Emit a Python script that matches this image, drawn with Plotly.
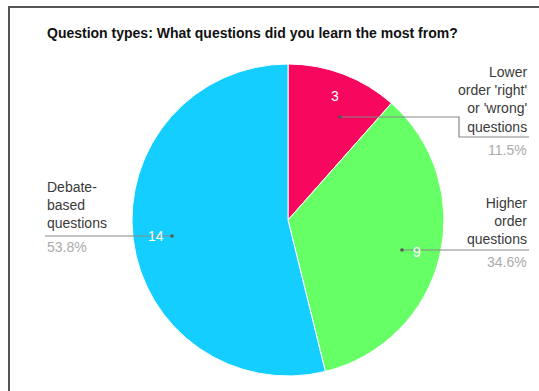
import math
import plotly.graph_objects as go

# ---- data ----
categories = ["Lower<br>order 'right'<br>or 'wrong'<br>questions",
              "Higher<br>order<br>questions",
              "Debate-<br>based<br>questions"]
values = [3, 9, 14]
colors = ["#F7075D", "#66FF66", "#14CEFF"]
title_text = "Question types: What questions did you learn the most from?"

W, H = 539, 391
# pie placement (pixels)
CX, CY, R = 288, 220, 156


def px(x, y):
    return x / W, 1 - y / H


fig = go.Figure()
fig.add_trace(go.Pie(
    labels=[c.replace("<br>", " ") for c in categories],
    values=values,
    sort=False,
    direction="clockwise",
    rotation=0,
    marker=dict(colors=colors, line=dict(color="white", width=1)),
    textinfo="none",
    hoverinfo="label+value+percent",
    showlegend=False,
    domain=dict(x=[(CX - R) / W, (CX + R) / W],
                y=[1 - (CY + R) / H, 1 - (CY - R) / H]),
))

annotations = []
shapes = []

total = sum(values)
cum = 0
mids = []
for v in values:
    mid = (cum + v / 2) / total * 2 * math.pi
    mids.append(mid)
    cum += v

# value labels inside slices (computed from data)
for v, mid in zip(values, mids):
    x = CX + 0.85 * R * math.sin(mid)
    y = CY - 0.85 * R * math.cos(mid)
    ax, ay = px(x, y)
    annotations.append(dict(x=ax, y=ay, xref="paper", yref="paper", text=str(v),
                            showarrow=False, font=dict(family="Liberation Sans", size=14, color="white"),
                            xanchor="center", yanchor="middle"))

# outside label layout (pixels): text x, anchor, block center y, pct y, leader path
label_layout = [
    dict(x=529, anchor="right", cy=100, py=150,
         path=[(340, 117), (459, 117), (459, 137), (529, 137)]),
    dict(x=529, anchor="right", cy=221, py=262,
         path=[(402, 250), (529, 250)]),
    dict(x=45, anchor="left", cy=205, py=247,
         path=[(172, 236), (45, 236)]),
]

for cat, v, lay in zip(categories, values, label_layout):
    ax, ay = px(lay["x"], lay["cy"])
    annotations.append(dict(x=ax, y=ay, xref="paper", yref="paper", text=cat,
                            showarrow=False, align=lay["anchor"],
                            font=dict(family="Liberation Sans", size=14, color="#3a3a3a"),
                            xanchor=lay["anchor"], yanchor="middle"))
    pct = f"{v / total * 100:.1f}%"
    bx, by = px(lay["x"], lay["py"])
    annotations.append(dict(x=bx, y=by, xref="paper", yref="paper", text=pct,
                            showarrow=False,
                            font=dict(family="Liberation Sans", size=14, color="#ababab"),
                            xanchor=lay["anchor"], yanchor="middle"))
    pts = lay["path"]
    d = "M " + " L ".join(f"{p[0]},{p[1]}" for p in pts)
    shapes.append(dict(type="path", xref="x", yref="y", path=d,
                       line=dict(color="#888888", width=1.2)))
    dx, dy = pts[0]
    shapes.append(dict(type="circle", xref="x", yref="y",
                       x0=dx - 1.8, x1=dx + 1.8, y0=dy - 1.8, y1=dy + 1.8,
                       fillcolor="#555555", line=dict(width=0)))

# title
tx, ty = px(45, 33)
annotations.append(dict(x=tx, y=ty, xref="paper", yref="paper", text="<b>" + title_text + "</b>",
                        showarrow=False, font=dict(family="Liberation Sans", size=14, color="#111111"),
                        xanchor="left", yanchor="middle"))

# frame border
shapes.append(dict(type="path", xref="x", yref="y", path=f"M 9,{H + 5} L 9,7 L {W + 5},7",
                   line=dict(color="#555555", width=2)))

fig.update_layout(
    width=W, height=H,
    margin=dict(l=0, r=0, t=0, b=0),
    paper_bgcolor="white", plot_bgcolor="rgba(0,0,0,0)",
    xaxis=dict(range=[0, W], visible=False, fixedrange=True),
    yaxis=dict(range=[H, 0], visible=False, fixedrange=True),
    annotations=annotations,
    shapes=shapes,
)

fig.write_html("out.html")
